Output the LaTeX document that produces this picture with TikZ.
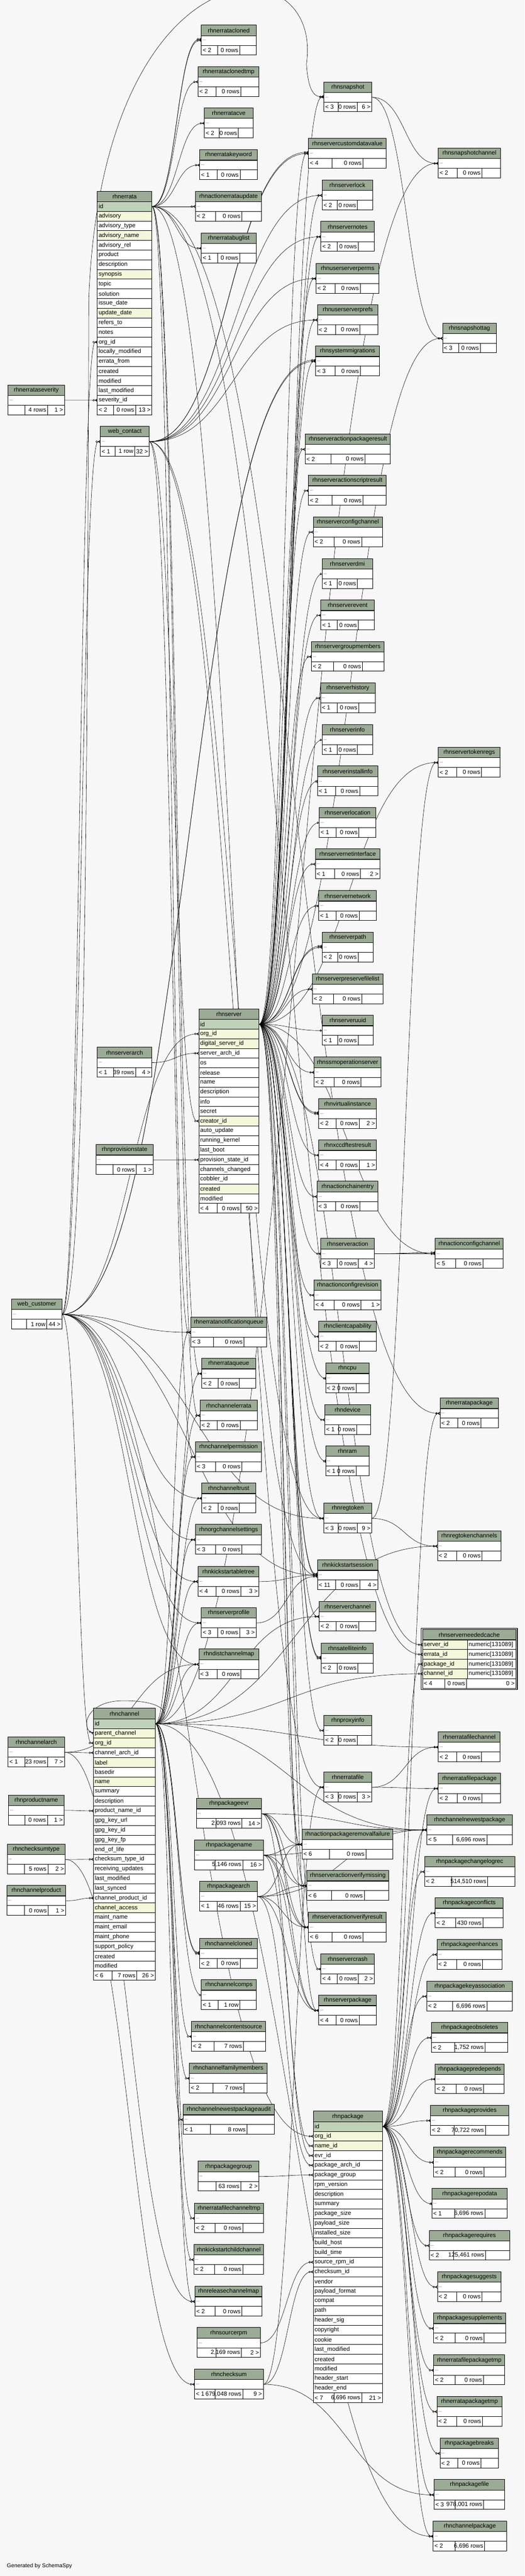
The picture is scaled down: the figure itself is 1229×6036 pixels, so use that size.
\documentclass[tikz,border=0pt]{standalone}
\usepackage{fontspec}
\setmainfont{Liberation Sans}
\usetikzlibrary{arrows.meta,calc}
\newlength\cwlen
\definecolor{bgc}{RGB}{247,247,247}
\definecolor{hdrc}{RGB}{155,171,150}
\definecolor{pkc}{RGB}{191,209,185}
\definecolor{idxc}{RGB}{244,247,218}
\pgfdeclarelayer{back}\pgfdeclarelayer{edges}\pgfsetlayers{back,edges,main}
\newcommand\tfont{\fontsize{14}{16}\selectfont}
\tikzset{
 htxt/.style={font=\tfont, inner sep=0pt, anchor=center},
 rtxt/.style={font=\tfont, inner sep=0pt, anchor=west, xshift=3pt},
 dtxt/.style={font=\fontsize{9}{10}\selectfont, inner sep=0pt, anchor=west, xshift=3pt},
 ftl/.style={font=\tfont, inner sep=0pt, anchor=west, xshift=3pt},
 ftr/.style={font=\tfont, inner sep=0pt, anchor=east, xshift=-3pt},
 cell/.style={draw=black, line width=1pt},
 outer/.style={draw=black, line width=1.2pt},
 rp/.style={fill=pkc}, ri/.style={fill=idxc}, rn/.style={fill=white},
 tbox/.style={inner sep=0pt, outer sep=0pt, anchor=north west},
 edge/.style={draw=black, line width=0.7pt},
 fkpath/.style={to path={let \p1=(\tikztostart), \p2=(\tikztotarget), \n1={max(abs(\x2-\x1)*0.5,20)} in .. controls +(\n1,0) and +(-\n1,0) .. (\tikztotarget)}},
 fk/.style={edge, fkpath, -{Circle[open,length=5pt,width=5pt] Stealth[reversed,length=6pt,width=7pt]}},
 fko/.style={edge, fkpath, -{Circle[open,length=5pt,width=5pt] Bar[width=7pt,line width=1pt]}},
 fkc/.style={edge, -{Circle[open,length=5pt,width=5pt] Stealth[reversed,length=6pt,width=7pt]}},
}
% collapsed table: id, x, y, w, title, footL, footM, footR
\newcommand\mktab[8]{%
\settowidth{\cwlen}{\tfont #7}%
\pgfmathsetmacro\mw{max(\cwlen+12pt,0.4*#4)}%
\pgfmathsetmacro\da{(#4-\mw)/2}%
\pgfmathsetmacro\db{\da+\mw}%
\begin{scope}[shift={(#2,#3)}]
\node[tbox, minimum width=#4pt, minimum height=69.9pt] (#1) at (0,0) {};
\fill[hdrc] (0,0) rectangle (#4,24.5);
\fill[white] (0,24.5) rectangle (#4,69.9);
\draw[cell] (0,47.2) -- (#4,47.2) (\da,47.2) -- (\da,69.9) (\db,47.2) -- (\db,69.9);
\draw[cell, line width=1.5pt] (0,24.5) -- (#4,24.5);
\draw[outer] (0,0) rectangle (#4,69.9);
\node[htxt] (#1-h) at (#4/2,12.25) {#5};
\node[dtxt] (#1-b) at (0,35.85) {...};
\node[ftl] (#1-fl) at (0,58.55) {#6};
\node[ftr] (#1-fm) at (\db,58.55) {#7};
\node[ftr] (#1-fr) at (#4,58.55) {#8};
\coordinate (#1-w) at (0,35.85);
\coordinate (#1-e) at (#4,35.85);
\end{scope}}
% detailed table: id, x, y, w, title, rows, footL, footM, footR
\newcommand\mkdtab[9]{%
\settowidth{\cwlen}{\tfont #8}%
\pgfmathsetmacro\mw{max(\cwlen+12pt,0.4*#4)}%
\pgfmathsetmacro\da{(#4-\mw)/2}%
\pgfmathsetmacro\db{\da+\mw}%
\begin{scope}[shift={(#2,#3)}]
\fill[hdrc] (0,0) rectangle (#4,24.5);
\node[htxt] (#1-h) at (#4/2,12.25) {#5};
\foreach \rowtxt/\rowsty [count=\ri] in {#6} {
  \pgfmathsetmacro\ya{24.5+(\ri-1)*22.7}
  \fill[\rowsty] (0,\ya) rectangle (#4,\ya+22.7);
  \draw[cell] (0,\ya) -- (#4,\ya);
  \node[rtxt] (#1-t\ri) at (0,\ya+11.35) {\rowtxt};
  \coordinate (#1-r\ri-w) at (0,\ya+11.35);
  \coordinate (#1-r\ri-e) at (#4,\ya+11.35);
  \xdef\nrows{\ri}
}
\pgfmathsetmacro\yf{24.5+\nrows*22.7}
\pgfmathsetmacro\yh{\yf+22.7}
\fill[white] (0,\yf) rectangle (#4,\yh);
\draw[cell] (0,\yf) -- (#4,\yf) (\da,\yf) -- (\da,\yh) (\db,\yf) -- (\db,\yh);
\draw[cell, line width=1.5pt] (0,24.5) -- (#4,24.5);
\draw[outer] (0,0) rectangle (#4,\yh);
\node[ftl] (#1-fl) at (0,\yf+11.35) {#7};
\node[ftr] (#1-fm) at (\db,\yf+11.35) {#8};
\node[ftr] (#1-fr) at (#4,\yf+11.35) {#9};
\node[tbox, minimum width=#4pt, minimum height=\yh pt] (#1) at (0,0) {};
\end{scope}}

\begin{document}
\begin{tikzpicture}[x=1pt,y=-1pt]
\useasboundingbox (0,0) rectangle (1229,6036);
\begin{pgfonlayer}{back}
\fill[bgc] (0,0) rectangle (1229,6036);
\end{pgfonlayer}

% ---------- column C (errata children) ----------
\mktab{ecl}{472}{59}{128}{rhnerratacloned}{< 2}{0 rows}{}
\mktab{ecltmp}{464}{156}{143}{rhnerrataclonedtmp}{< 2}{0 rows}{}
\mktab{ecve}{479}{253}{114}{rhnerratacve}{< 2}{0 rows}{}
\mktab{ekw}{468}{351}{135}{rhnerratakeyword}{< 1}{0 rows}{}
\mktab{aeu}{458}{448}{155}{rhnactionerrataupdate}{< 2}{0 rows}{}
\mktab{ebug}{472}{546}{128}{rhnerratabuglist}{< 1}{0 rows}{}
% ---------- column D (server children) ----------
\mktab{snap}{759}{192}{112}{rhnsnapshot}{< 3}{0 rows}{6 >}
\mktab{scdv}{723}{324}{182}{rhnservercustomdatavalue}{< 4}{0 rows}{}
\mktab{slock}{755}{422}{118}{rhnserverlock}{< 2}{0 rows}{}
\mktab{snotes}{752}{519}{125}{rhnservernotes}{< 2}{0 rows}{}
\mktab{usperms}{741}{617}{147}{rhnuserserverperms}{< 2}{0 rows}{}
\mktab{usprefs}{744}{714}{142}{rhnuserserverprefs}{< 2}{0 rows}{}
\mktab{sysmig}{740}{811}{149}{rhnsystemmigrations}{< 3}{0 rows}{}
\mktab{sapr}{715}{1017}{200}{rhnserveractionpackageresult}{< 2}{0 rows}{}
\mktab{sasr}{723}{1114}{182}{rhnserveractionscriptresult}{< 2}{0 rows}{}
\mktab{scc}{734}{1211}{162}{rhnserverconfigchannel}{< 2}{0 rows}{}
\mktab{sdmi}{755}{1309}{118}{rhnserverdmi}{< 1}{0 rows}{}
\mktab{sevent}{752}{1406}{125}{rhnserverevent}{< 1}{0 rows}{}
\mktab{sgm}{730}{1503}{170}{rhnservergroupmembers}{< 2}{0 rows}{}
\mktab{shist}{751}{1600}{128}{rhnserverhistory}{< 1}{0 rows}{}
\mktab{sinfo}{755}{1698}{118}{rhnserverinfo}{< 1}{0 rows}{}
\mktab{sinst}{744}{1795}{141}{rhnserverinstallinfo}{< 1}{0 rows}{}
\mktab{sloc}{748}{1892}{133}{rhnserverlocation}{< 1}{0 rows}{}
\mktab{snetif}{739}{1989}{151}{rhnservernetinterface}{< 1}{0 rows}{2 >}
\mktab{snetw}{747}{2087}{135}{rhnservernetwork}{< 1}{0 rows}{}
\mktab{spath}{755}{2184}{120}{rhnserverpath}{< 2}{0 rows}{}
\mktab{spfl}{732}{2282}{165}{rhnserverpreservefilelist}{< 2}{0 rows}{}
\mktab{suuid}{755}{2379}{120}{rhnserveruuid}{< 1}{0 rows}{}
\mktab{ssmop}{736}{2477}{157}{rhnssmoperationserver}{< 2}{0 rows}{}
\mktab{vinst}{747}{2574}{135}{rhnvirtualinstance}{< 2}{0 rows}{2 >}
\mktab{xccdf}{747}{2671}{135}{rhnxccdftestresult}{< 4}{0 rows}{1 >}
\mktab{ace}{743}{2768}{143}{rhnactionchainentry}{< 3}{0 rows}{}
\mktab{sact}{752}{2902}{125}{rhnserveraction}{< 3}{0 rows}{4 >}
\mktab{acr}{736}{2999}{157}{rhnactionconfigrevision}{< 4}{0 rows}{1 >}
\mktab{ccap}{747}{3096}{135}{rhnclientcapability}{< 2}{0 rows}{}
\mktab{cpu}{763}{3194}{102}{rhncpu}{< 2}{0 rows}{}
\mktab{dev}{761}{3291}{107}{rhndevice}{< 1}{0 rows}{}
\mktab{ram}{763}{3388}{102}{rhnram}{< 1}{0 rows}{}
\mktab{regtok}{759}{3522}{112}{rhnregtoken}{< 3}{0 rows}{9 >}
\mktab{kss}{744}{3655}{141}{rhnkickstartsession}{< 11}{0 rows}{4 >}
\mktab{schan}{748}{3752}{133}{rhnserverchannel}{< 2}{0 rows}{}
\mktab{satinfo}{753}{3850}{122}{rhnsatelliteinfo}{< 2}{0 rows}{}
\mktab{proxy}{759}{4019}{112}{rhnproxyinfo}{< 2}{0 rows}{}
\mktab{efile}{759}{4152}{112}{rhnerratafile}{< 3}{0 rows}{3 >}
\mktab{aprf}{708}{4286}{213}{rhnactionpackageremovalfailure}{< 6}{0 rows}{}
\mktab{savm}{719}{4383}{192}{rhnserveractionverifymissing}{< 6}{0 rows}{}
\mktab{savr}{723}{4480}{182}{rhnserveractionverifyresult}{< 6}{0 rows}{}
\mktab{scrash}{752}{4578}{125}{rhnservercrash}{< 4}{0 rows}{2 >}
\mktab{spkg}{747}{4675}{135}{rhnserverpackage}{< 4}{0 rows}{}
% ---------- column E ----------
\mktab{snapch}{1027}{347}{146}{rhnsnapshotchannel}{< 2}{0 rows}{}
\mktab{snaptag}{1037}{757}{126}{rhnsnapshottag}{< 3}{0 rows}{}
\mktab{stokreg}{1027}{1751}{145}{rhnservertokenregs}{< 2}{0 rows}{}
\mktab{acc}{1020}{2902}{159}{rhnactionconfigchannel}{< 5}{0 rows}{}
\mktab{epkg}{1031}{3276}{137}{rhnerratapackage}{< 2}{0 rows}{}
\mktab{rtch}{1025}{3587}{149}{rhnregtokenchannels}{< 2}{0 rows}{}
\mktab{efch}{1027}{4058}{145}{rhnerratafilechannel}{< 2}{0 rows}{}
\mktab{efpkg}{1027}{4155}{146}{rhnerratafilepackage}{< 2}{0 rows}{}
\mktab{cnp}{1000}{4252}{201}{rhnchannelnewestpackage}{< 5}{6,696 rows}{}
\mktab{pclr}{995}{4350}{211}{rhnpackagechangelogrec}{< 2}{514,510 rows}{}
\mktab{pconf}{1020}{4447}{159}{rhnpackageconflicts}{< 2}{430 rows}{}
\mktab{penh}{1024}{4544}{152}{rhnpackageenhances}{< 2}{0 rows}{}
\mktab{pka}{1000}{4642}{201}{rhnpackagekeyassociation}{< 2}{6,696 rows}{}
\mktab{pobs}{1011}{4739}{179}{rhnpackageobsoletes}{< 2}{1,752 rows}{}
\mktab{ppre}{1020}{4836}{161}{rhnpackagepredepends}{< 2}{0 rows}{}
\mktab{pprov}{1009}{4933}{183}{rhnpackageprovides}{< 2}{70,722 rows}{}
\mktab{prec}{1016}{5031}{169}{rhnpackagerecommends}{< 2}{0 rows}{}
\mktab{prepo}{1012}{5128}{177}{rhnpackagerepodata}{< 1}{6,696 rows}{}
\mktab{preq}{1006}{5226}{188}{rhnpackagerequires}{< 2}{125,461 rows}{}
\mktab{psug}{1025}{5323}{149}{rhnpackagesuggests}{< 2}{0 rows}{}
\mktab{psup}{1016}{5420}{169}{rhnpackagesupplements}{< 2}{0 rows}{}
\mktab{efptmp}{1016}{5518}{167}{rhnerratafilepackagetmp}{< 2}{0 rows}{}
\mktab{eptmp}{1024}{5615}{152}{rhnerratapackagetmp}{< 2}{0 rows}{}
\mktab{pbrk}{1031}{5713}{137}{rhnpackagebreaks}{< 2}{0 rows}{}
\mktab{pfile}{1017}{5810}{166}{rhnpackagefile}{< 3}{978,001 rows}{}
\mktab{chpkg}{1015}{5907}{172}{rhnchannelpackage}{< 2}{6,696 rows}{}
% ---------- column C lower ----------
\mktab{enq}{447}{3086}{178}{rhnerratanotificationqueue}{< 3}{0 rows}{}
\mktab{eq}{473}{3183}{126}{rhnerrataqueue}{< 2}{0 rows}{}
\mktab{cherr}{469}{3281}{134}{rhnchannelerrata}{< 2}{0 rows}{}
\mktab{chperm}{458}{3378}{155}{rhnchannelpermission}{< 3}{0 rows}{}
\mktab{chtrust}{473}{3475}{126}{rhnchanneltrust}{< 2}{0 rows}{}
\mktab{ocs}{458}{3572}{155}{rhnorgchannelsettings}{< 3}{0 rows}{}
\mktab{kstree}{464}{3670}{143}{rhnkickstartabletree}{< 4}{0 rows}{3 >}
\mktab{sprof}{472}{3767}{128}{rhnserverprofile}{< 3}{0 rows}{3 >}
\mktab{dcm}{466}{3864}{141}{rhndistchannelmap}{< 3}{0 rows}{}
\mktab{pevr}{460}{4214}{153}{rhnpackageevr}{}{2,093 rows}{14 >}
\mktab{pname}{456}{4311}{161}{rhnpackagename}{}{5,146 rows}{16 >}
\mktab{parch}{468}{4408}{135}{rhnpackagearch}{< 1}{46 rows}{15 >}
\mktab{chcl}{468}{4542}{135}{rhnchannelcloned}{< 2}{0 rows}{}
\mktab{chcomps}{472}{4639}{129}{rhnchannelcomps}{< 1}{1 row}{}
\mktab{chcs}{449}{4736}{173}{rhnchannelcontentsource}{< 2}{7 rows}{}
\mktab{chfm}{444}{4834}{182}{rhnchannelfamilymembers}{< 2}{7 rows}{}
\mktab{cnpa}{429}{4931}{214}{rhnchannelnewestpackageaudit}{< 1}{8 rows}{}
\mktab{pgrp}{464}{5064}{143}{rhnpackagegroup}{}{63 rows}{2 >}
\mktab{efchtmp}{456}{5162}{161}{rhnerratafilechanneltmp}{< 2}{0 rows}{}
\mktab{kscc}{454}{5259}{164}{rhnkickstartchildchannel}{< 2}{0 rows}{}
\mktab{rcm}{457}{5357}{157}{rhnreleasechannelmap}{< 2}{0 rows}{}
\mktab{srpm}{462}{5454}{148}{rhnsourcerpm}{}{2,169 rows}{2 >}
\mktab{cksum}{456}{5551}{161}{rhnchecksum}{< 1}{679,048 rows}{9 >}
% ---------- columns A/B ----------
\mktab{esev}{19}{902}{132}{rhnerrataseverity}{}{4 rows}{1 >}
\mktab{wcontact}{235}{999}{115}{web\_contact}{< 1}{1 row}{32 >}
\mktab{sarch}{228}{2454}{128}{rhnserverarch}{< 1}{39 rows}{4 >}
\mktab{provst}{225}{2682}{134}{rhnprovisionstate}{}{0 rows}{1 >}
\mktab{wcust}{27}{3044}{118}{web\_customer}{}{1 row}{44 >}
\mktab{charch}{19}{4070}{132}{rhnchannelarch}{< 1}{23 rows}{7 >}
\mktab{prodname}{20}{4206}{130}{rhnproductname}{}{0 rows}{1 >}
\mktab{cktype}{17}{4321}{136}{rhnchecksumtype}{}{5 rows}{2 >}
\mktab{chprod}{16}{4418}{138}{rhnchannelproduct}{}{0 rows}{1 >}

% ---------- detailed tables ----------
\mkdtab{errata}{228}{448}{128}{rhnerrata}{id/rp,advisory/ri,advisory\_type/rn,advisory\_name/ri,advisory\_rel/rn,product/rn,description/rn,synopsis/ri,topic/rn,solution/rn,issue\_date/rn,update\_date/ri,refers\_to/rn,notes/rn,org\_id/rn,locally\_modified/rn,errata\_from/rn,created/rn,modified/rn,last\_modified/rn,severity\_id/rn}{< 2}{0 rows}{13 >}
\mkdtab{server}{466}{2364}{141}{rhnserver}{id/rp,org\_id/ri,digital\_server\_id/ri,server\_arch\_id/rn,os/rn,release/rn,name/rn,description/rn,info/rn,secret/rn,creator\_id/ri,auto\_update/rn,running\_kernel/rn,last\_boot/rn,provision\_state\_id/rn,channels\_changed/rn,cobbler\_id/rn,created/ri,modified/rn}{< 4}{0 rows}{50 >}
\mkdtab{channel}{219}{4003}{145}{rhnchannel}{id/rp,parent\_channel/ri,org\_id/ri,channel\_arch\_id/rn,label/ri,basedir/rn,name/ri,summary/rn,description/rn,product\_name\_id/rn,gpg\_key\_url/rn,gpg\_key\_id/rn,gpg\_key\_fp/rn,end\_of\_life/rn,checksum\_type\_id/rn,receiving\_updates/rn,last\_modified/rn,last\_synced/rn,channel\_product\_id/rn,channel\_access/ri,maint\_name/rn,maint\_email/rn,maint\_phone/rn,support\_policy/rn,created/rn,modified/rn}{< 6}{7 rows}{26 >}
\mkdtab{package}{734}{4947}{162}{rhnpackage}{id/rp,org\_id/ri,name\_id/ri,evr\_id/rn,package\_arch\_id/rn,package\_group/rn,rpm\_version/rn,description/rn,summary/rn,package\_size/rn,payload\_size/rn,installed\_size/rn,build\_host/rn,build\_time/rn,source\_rpm\_id/rn,checksum\_id/rn,vendor/rn,payload\_format/rn,compat/rn,path/rn,header\_sig/rn,copyright/rn,cookie/rn,last\_modified/rn,created/rn,modified/rn,header\_start/rn,header\_end/rn}{< 7}{6,696 rows}{21 >}

% ---------- focus table ----------
\begin{scope}[shift={(990,3818)}]
\node[tbox, minimum width=219pt, minimum height=138pt] (cache) at (0,0) {};
\fill[hdrc] (0,0) rectangle (219,24.5);
\node[htxt] (cache-h) at (109.5,12.25) {rhnserverneededcache};
\foreach \rowtxt [count=\ri] in {server\_id,errata\_id,package\_id,channel\_id} {
  \pgfmathsetmacro\ya{24.5+(\ri-1)*22.7}
  \fill[idxc] (0,\ya) rectangle (105,\ya+22.7);
  \fill[white] (105,\ya) rectangle (219,\ya+22.7);
  \draw[cell] (0,\ya) -- (219,\ya) (105,\ya) -- (105,\ya+22.7);
  \node[rtxt] (cache-t\ri) at (0,\ya+11.35) {\rowtxt};
  \node[rtxt] (cache-y\ri) at (105,\ya+11.35) {numeric[131089]};
  \coordinate (cache-r\ri-w) at (0,\ya+11.35);
}
\fill[white] (0,115.3) rectangle (219,138);
\draw[cell] (0,115.3) -- (219,115.3) (52,115.3) -- (52,138) (103,115.3) -- (103,138);
\draw[cell, line width=1.5pt] (0,24.5) -- (219,24.5);
\node[ftl] (cache-fl) at (0,126.65) {< 4};
\node[ftr] (cache-fm) at (103,126.65) {0 rows};
\node[ftr] (cache-fr) at (219,126.65) {0 >};
\draw[outer] (0,0) rectangle (219,138);
\draw[line width=1.6pt] (-3,-3) rectangle (222,141);
\end{scope}

\node[anchor=west, inner sep=0pt, font=\fontsize{13}{15}\selectfont] (gen) at (16,6013) {Generated by SchemaSpy};

% ---------- connectors ----------
\begin{pgfonlayer}{edges}
% rhnerrata
\foreach \dst in {ecl,ecltmp,ecve,ekw,aeu,ebug,enq,eq,cherr,efile,epkg} \draw[fk] (errata-r1-e) to (\dst-w);
\draw[fk] (errata-r1-e) to ([yshift=3pt]ecl-w);
\draw[fk] (errata-r1-e) to (cache-r2-w);
\draw[fk] (esev-e) to (errata-r21-w);
% web_customer
\foreach \dst in {wcontact,enq,chtrust,ocs,kstree,sprof,dcm,regtok,kss,sysmig} \draw[fk] (wcust-e) to (\dst-w);
\draw[fk] (wcust-e) to ([yshift=3pt]sysmig-w);
\draw[fk] (wcust-e) to (errata-r15-w);
\draw[fk] (wcust-e) to (server-r2-w);
\draw[fk] (wcust-e) to (channel-r3-w);
\draw[fk] (wcust-e) to (package-r2-w);
\draw[fkc] (wcust-e) .. controls (200,3080) and (205,1800) .. (208,700) .. controls (240,-140) and (760,-140) .. (718,150) .. controls (722,210) and (735,228) .. ([yshift=2pt]snap-w);
% web_contact
\foreach \dst in {scdv,slock,snotes,usperms,usprefs,chperm,regtok,kss} \draw[fk] (wcontact-e) to (\dst-w);
\draw[fk] (wcontact-e) to ([yshift=3pt]scdv-w);
\draw[fk] (wcontact-e) to (server-r11-w);
% rhnserver
\foreach \dst in {snap,scdv,slock,snotes,usperms,usprefs,sysmig,sapr,sasr,scc,sevent,sgm,shist,snetif,snetw,spath,spfl,ssmop,vinst,xccdf,ace,sact,acr,ccap,dev,regtok,kss,schan,satinfo,proxy,aprf,savm,savr,scrash,spkg,snaptag,stokreg,acc} \draw[fk] (server-r1-e) to (\dst-w);
\foreach \dst in {sdmi,sinfo,sinst,sloc,suuid,cpu,ram} \draw[fko] (server-r1-e) to (\dst-w);
\foreach \dst in {spath,vinst,kss,satinfo} \draw[fk] (server-r1-e) to ([yshift=3pt]\dst-w);
\draw[fk] (server-r1-e) to (cache-r1-w);
\draw[fk] (sarch-e) to (server-r4-w);
\draw[fk] (provst-e) to (server-r15-w);
% rhnchannel
\foreach \dst in {efch,cnp,cherr,chperm,chtrust,ocs,kstree,sprof,dcm,chcl,chcs,chfm,cnpa,efchtmp,kscc,rcm,chpkg,schan,rtch,snapch,eq,enq} \draw[fk] (channel-r1-e) to (\dst-w);
\draw[fko] (channel-r1-e) to (chcomps-w);
\draw[fk] (channel-r1-e) to ([yshift=3pt]chcl-w);
\draw[fk] (channel-r1-e) to (cache-r4-w);
\draw[fkc] (channel-r1-e) .. controls (400,4026) and (400,3985) .. (290,3985) .. controls (200,3985) and (190,4049) .. (channel-r2-w);
\draw[fk] (charch-e) to (channel-r4-w);
\draw[fk] (charch-e) to (dcm-w);
\draw[fk] (charch-e) to (rcm-w);
\draw[fk] (prodname-e) to (channel-r10-w);
\draw[fk] (cktype-e) to (channel-r15-w);
\draw[fk] (cktype-e) to (cksum-w);
\draw[fk] (chprod-e) to (channel-r19-w);
% misc parents
\draw[fk] (snap-e) to (snapch-w);
\draw[fk] (snap-e) to (snaptag-w);
\draw[fk] (regtok-e) to (rtch-w);
\draw[fk] (regtok-e) to (stokreg-w);
\draw[fk] (sact-e) to (acc-w);
\draw[fk] (sact-e) to ([yshift=3pt]acc-w);
\draw[fk] (kstree-e) to (kss-w);
\draw[fk] (sprof-e) to ([yshift=-3pt]kss-w);
\draw[fk] (efile-e) to (efch-w);
\draw[fk] (efile-e) to (efpkg-w);
\draw[fk] (cksum-e) to (package-r16-w);
\draw[fk] (cksum-e) to (pfile-w);
\draw[fk] (cksum-e) to (efile-w);
\draw[fk] (srpm-e) to (package-r15-w);
\draw[fk] (pgrp-e) to (package-r6-w);
\foreach \src/\rr in {pevr/4,pname/3,parch/5} {
  \draw[fk] (\src-e) to (package-r\rr-w);
  \foreach \dst in {aprf,savm,savr,spkg,cnp} \draw[fk] (\src-e) to (\dst-w);
}
% rhnpackage
\foreach \dst in {efpkg,cnp,pclr,pconf,penh,pka,pobs,ppre,pprov,prec,preq,psug,psup,efptmp,eptmp,pbrk,pfile,chpkg,epkg} \draw[fk] (package-r1-e) to (\dst-w);
\draw[fko] (package-r1-e) to (prepo-w);
\draw[fk] (package-r1-e) to (cache-r3-w);
\end{pgfonlayer}
\end{tikzpicture}
\end{document}
